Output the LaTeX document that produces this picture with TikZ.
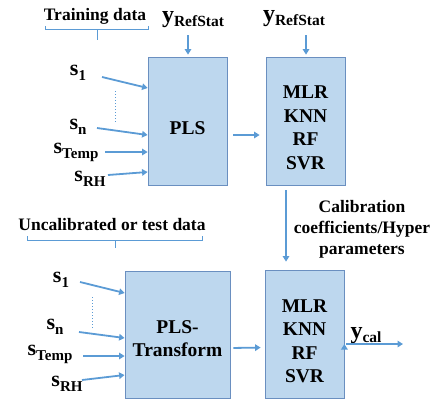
\documentclass[tikz,border=0pt]{standalone}
\usepackage{fontspec}
\setmainfont{Liberation Serif}
\usetikzlibrary{arrows.meta}
\definecolor{arrblue}{HTML}{5B9BD5}
\definecolor{boxfill}{HTML}{BDD7EE}
\definecolor{boxline}{HTML}{6A8FC0}
\newcommand{\sig}[2]{{\fontsize{22}{22}\selectfont #1}\raisebox{-5pt}{\fontsize{15}{15}\selectfont #2}}
\newcommand{\yv}[2]{{\fontsize{24}{24}\selectfont #1}\raisebox{-4pt}{\fontsize{15.5}{15.5}\selectfont #2}}

\begin{document}
\begin{tikzpicture}[x=1pt, y=-1pt,
        blk/.style={draw=boxline, fill=boxfill, line width=0.8pt},
        arr/.style={-{Triangle[length=5.5pt,width=6.5pt]}, arrblue, line width=1.8pt},
        lbl/.style={inner sep=0pt, font=\bfseries\fontsize{17.5}{21}\selectfont},
        algo/.style={inner sep=0pt, align=center, font=\bfseries\fontsize{19.5}{23.5}\selectfont}]
                \useasboundingbox (0,0) rectangle (438,402);

                % training part
                \node[blk, minimum width=79, minimum height=128] (pls) at (187.5,121) {};
                \node[blk, minimum width=79, minimum height=128] (reg1) at (305.5,121) {};
                \node[algo] (plstxt) at (187.5,128.5) {PLS};
                \node[algo] (reg1txt) at (305.5,128) {MLR\\KNN\\RF\\SVR};

                \node[lbl] (train) at (95,16) {Training data};
                \node[lbl] (yref1) at (193,20) {\yv{y}{RefStat}};
                \node[lbl] (yref2) at (294,19) {\yv{y}{RefStat}};

                \node[lbl] (s11) at (78,73) {\sig{s}{1}};
                \node[lbl] (s1n) at (78,127) {\sig{s}{n}};
                \node[lbl] (s1t) at (76,152) {\sig{s}{Temp}};
                \node[lbl] (s1r) at (90,179) {\sig{s}{RH}};
                \coordinate (a11) at (102,77);
                \coordinate (a1n) at (97,128);
                \coordinate (a1t) at (105,152);
                \coordinate (a1r) at (108,175);
                \coordinate (b1) at (188,35);
                \coordinate (b2) at (306,35);

                \draw[arrblue, line width=0.8pt] (45,26) -- (45,29.5) -- (148,29.5) -- (148,26) (97,29.5) -- (97,40);
                \draw[arrblue, dotted, line width=1pt] (115,91) -- (115,123);

                % test part
                \node[blk, minimum width=105, minimum height=127] (plst) at (177.5,334.5) {};
                \node[blk, minimum width=79, minimum height=128] (reg2) at (304.5,334) {};
                \node[algo] (plsttxt) at (177.5,338.5) {PLS-\\Transform};
                \node[algo] (reg2txt) at (304.5,341.5) {MLR\\KNN\\RF\\SVR};

                \node[lbl] (test) at (112,225) {Uncalibrated or test data};
                \node[lbl, align=center] (calib) at (362,229) {Calibration\\coefficients/Hyper\\parameters};
                \node[lbl] (ycal) at (366,336) {\yv{y}{cal}};
                \coordinate (ycalend) at (403,344);

                \node[lbl] (s21) at (61,280) {\sig{s}{1}};
                \node[lbl] (s2n) at (55,327) {\sig{s}{n}};
                \node[lbl] (s2t) at (50,354) {\sig{s}{Temp}};
                \node[lbl] (s2r) at (67,384) {\sig{s}{RH}};
                \coordinate (a21) at (80,282);
                \coordinate (a2n) at (79,332);
                \coordinate (a2t) at (83,356);
                \coordinate (a2r) at (82,380);

                \draw[arrblue, line width=0.8pt] (27,236) -- (27,240) -- (202,240) -- (202,236) (115,240) -- (115,248);
                \draw[arrblue, dotted, line width=1pt] (92,297) -- (92,328);

                \draw[arr]
                    (b1) edge[shorten >=2pt] (b1 |- pls.north)
                    (b2) edge[shorten >=2pt] (b2 |- reg1.north)
                    (a11) edge (pls.west |- 0,88)
                    (a1n) edge (pls.west |- 0,135)
                    (a1t) edge (pls.west |- 0,152)
                    (a1r) edge (pls.west |- 0,172)
                    (a21) edge (plst.west |- 0,293)
                    (a2n) edge (plst.west |- 0,338)
                    (a2t) edge (plst.west |- 0,356)
                    (a2r) edge (plst.west |- 0,375)
                    ([yshift=-14pt]pls.east) edge[shorten <=6pt, shorten >=6pt] ([yshift=-14pt]reg1.west)
                    ([yshift=-13.5pt]plst.east) edge[shorten <=3pt, shorten >=4pt] ([yshift=-13.5pt]reg2.west)
                    ([xshift=-19.5pt]reg1.south) edge[shorten <=5pt, shorten >=8pt] ([xshift=-18.5pt]reg2.north)
                    ([yshift=-10pt]reg2.east) edge[shorten <=2pt] (ycalend)
                    ;
            \end{tikzpicture}
\end{document}
